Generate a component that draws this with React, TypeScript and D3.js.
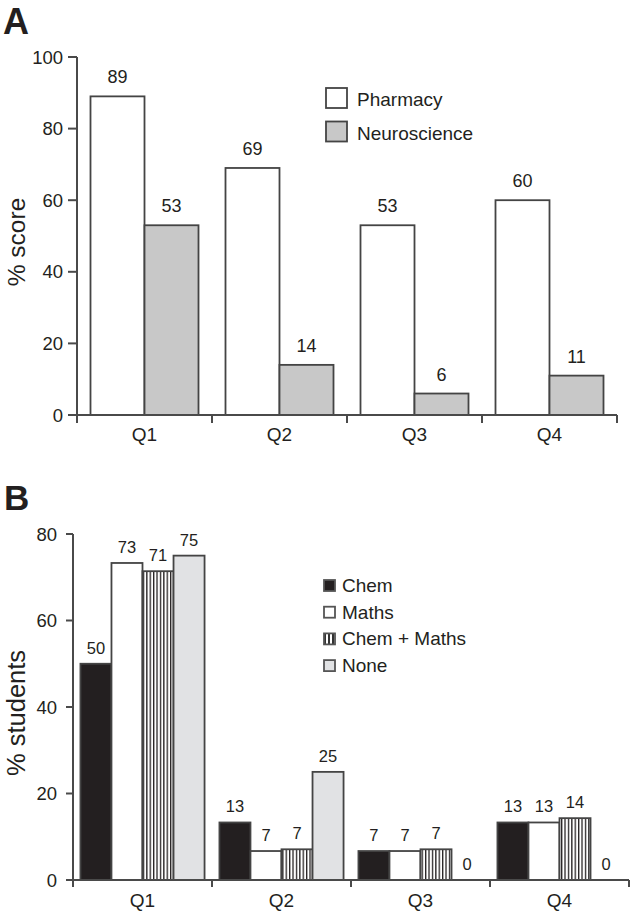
import React from "react";
import * as d3 from "d3";

const categories = ["Q1", "Q2", "Q3", "Q4"];
const seriesA = ["Pharmacy", "Neuroscience"];
const pharmacy = [89, 69, 53, 60];
const neuroscience = [53, 14, 6, 11];
const ticksA = [0, 20, 40, 60, 80, 100];

const seriesB = ["Chem", "Maths", "Chem + Maths", "None"];
const chem = [50, 13.3, 6.7, 13.3];
const maths = [73.3, 6.7, 6.7, 13.3];
const chemMaths = [71.4, 7.1, 7.1, 14.3];
const none = [75, 25, 0, 0];
const ticksB = [0, 20, 40, 60, 80];

const FONT = "Liberation Sans, Arial, Helvetica, sans-serif";
const TXT = "#231f20";
const AX = "#4a4a4a";

export default function App() {
  // Panel A
  const xA = d3.scaleBand<string>().domain(categories).range([77, 617]);
  const xA2 = d3.scaleBand<string>().domain(seriesA).range([0, xA.bandwidth()]).paddingOuter(0.25);
  const yA = d3.scaleLinear().domain([0, 100]).range([415, 57]);
  const dataA = [pharmacy, neuroscience];
  const fillsA = ["#ffffff", "#c8c8c8"];

  // Panel B
  const xB = d3.scaleBand<string>().domain(categories).range([73, 629]);
  const xB2 = d3.scaleBand<string>().domain(seriesB).range([0, xB.bandwidth()]).paddingOuter(0.24);
  const yB = d3.scaleLinear().domain([0, 80]).range([880, 534]);
  const dataB = [chem, maths, chemMaths, none];
  const fillsB = ["#231f20", "#ffffff", "url(#stripes)", "#e1e2e4"];

  const boundariesA = categories.map((c) => xA(c)!).concat([xA.range()[1]]);
  const boundariesB = categories.map((c) => xB(c)!).concat([xB.range()[1]]);

  return (
    <svg width={630} height={914} style={{ position: "absolute", left: 0, top: 0, background: "#fff" }} fontFamily={FONT}>
      <defs>
        <pattern id="stripes" width={3.4} height={10} patternUnits="userSpaceOnUse">
          <rect width={3.4} height={10} fill="#ffffff" />
          <rect x={0} width={1.3} height={10} fill="#231f20" />
        </pattern>
        <pattern id="stripesLeg" width={4} height={10} patternUnits="userSpaceOnUse" x={324}>
          <rect width={4} height={10} fill="#ffffff" />
          <rect x={0} width={2} height={10} fill="#333" />
        </pattern>
      </defs>
      <rect width={630} height={914} fill="#fff" />

      {/* Panel A */}
      <text x={3} y={34} fontSize={36} fontWeight="bold" fill={TXT}>A</text>
      {dataA.map((vals, si) =>
        vals.map((v, i) => {
          const x = xA(categories[i])! + xA2(seriesA[si])!;
          const y = yA(v);
          return (
            <g key={`a${si}-${i}`}>
              <rect x={x} y={y} width={xA2.bandwidth()} height={yA(0) - y} fill={fillsA[si]} stroke="#444" strokeWidth={1.8} />
              <text x={x + xA2.bandwidth() / 2} y={y - 13} textAnchor="middle" fontSize={18} fill={TXT}>{v}</text>
            </g>
          );
        })
      )}
      <line x1={77} x2={77} y1={yA(100)} y2={yA(0)} stroke={AX} strokeWidth={2} />
      <line x1={77} x2={617} y1={yA(0)} y2={yA(0)} stroke={AX} strokeWidth={2} />
      {ticksA.map((t) => (
        <g key={`ta${t}`}>
          <line x1={68} x2={77} y1={yA(t)} y2={yA(t)} stroke={AX} strokeWidth={2} />
          <text x={63} y={yA(t) + 6.5} textAnchor="end" fontSize={18.5} fill={TXT}>{t}</text>
        </g>
      ))}
      {boundariesA.map((b, i) => (
        <line key={`ba${i}`} x1={b} x2={b} y1={yA(0)} y2={yA(0) + 8} stroke={AX} strokeWidth={2} />
      ))}
      {categories.map((c) => (
        <text key={`ca${c}`} x={xA(c)! + xA.bandwidth() / 2} y={441} textAnchor="middle" fontSize={19} fill={TXT}>{c}</text>
      ))}
      <text transform={`translate(25,242) rotate(-90)`} textAnchor="middle" fontSize={24.5} fill={TXT}>% score</text>
      {seriesA.map((s, i) => (
        <g key={`la${s}`}>
          <rect x={326} y={88 + i * 33.5} width={21} height={20} fill={fillsA[i]} stroke="#444" strokeWidth={1.8} />
          <text x={357} y={106 + i * 33.5} fontSize={19} fill={TXT}>{s}</text>
        </g>
      ))}

      {/* Panel B */}
      <text x={4} y={510} fontSize={35} fontWeight="bold" fill={TXT}>B</text>
      {dataB.map((vals, si) =>
        vals.map((v, i) => {
          const x = xB(categories[i])! + xB2(seriesB[si])!;
          const y = yB(v);
          return (
            <g key={`b${si}-${i}`}>
              {v > 0 && (
                <rect x={x} y={y} width={xB2.bandwidth()} height={yB(0) - y} fill={fillsB[si]} stroke="#444" strokeWidth={1.8} />
              )}
              <text x={x + xB2.bandwidth() / 2} y={y - 10} textAnchor="middle" fontSize={16.5} fill={TXT}>{Math.round(v)}</text>
            </g>
          );
        })
      )}
      <line x1={73} x2={73} y1={yB(80)} y2={yB(0)} stroke={AX} strokeWidth={2} />
      <line x1={73} x2={629} y1={yB(0)} y2={yB(0)} stroke={AX} strokeWidth={2} />
      {ticksB.map((t) => (
        <g key={`tb${t}`}>
          <line x1={66} x2={73} y1={yB(t)} y2={yB(t)} stroke={AX} strokeWidth={2} />
          <text x={57} y={yB(t) + 6.5} textAnchor="end" fontSize={18.5} fill={TXT}>{t}</text>
        </g>
      ))}
      {boundariesB.map((b, i) => (
        <line key={`bb${i}`} x1={b} x2={b} y1={yB(0)} y2={yB(0) + 7} stroke={AX} strokeWidth={2} />
      ))}
      {categories.map((c) => (
        <text key={`cb${c}`} x={xB(c)! + xB.bandwidth() / 2} y={907} textAnchor="middle" fontSize={19} fill={TXT}>{c}</text>
      ))}
      <text transform={`translate(25,713) rotate(-90)`} textAnchor="middle" fontSize={25.5} fill={TXT}>% students</text>
      {seriesB.map((s, i) => (
        <g key={`lb${s}`}>
          <rect x={324} y={580 + i * 26.7} width={11} height={11} fill={i === 2 ? "url(#stripesLeg)" : fillsB[i]} stroke="#555" strokeWidth={1.8} />
          <text x={342} y={592 + i * 26.7} fontSize={19} fill={TXT}>{s}</text>
        </g>
      ))}
    </svg>
  );
}
